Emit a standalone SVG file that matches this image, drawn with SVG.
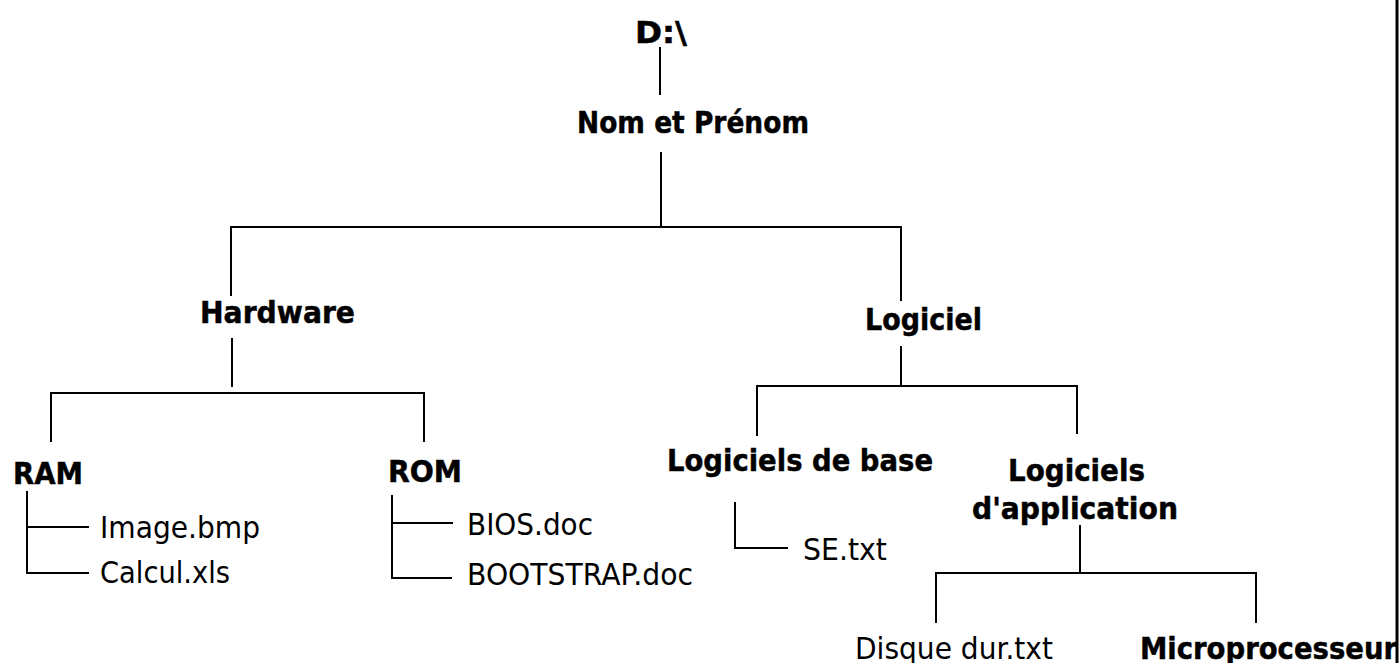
<svg xmlns="http://www.w3.org/2000/svg" width="1400" height="663" viewBox="0 0 1400 663">
<style>
.b{font-family:"DejaVu Sans","Noto Sans",sans-serif;font-weight:bold;font-size:31px;fill:#000;stroke:#000;stroke-width:0.5}
.r{font-family:"DejaVu Sans","Noto Sans",sans-serif;font-size:31px;fill:#000}
.c line{stroke:#000;stroke-width:2;stroke-linecap:square}
</style>
<rect x="0" y="0" width="1400" height="663" fill="#fff"/>
<g class="c" id="connectors">
<line x1="660" y1="48" x2="660" y2="94"/>
<line x1="661" y1="153" x2="661" y2="227"/>
<line x1="231" y1="227" x2="901" y2="227"/>
<line x1="231" y1="227" x2="231" y2="295"/>
<line x1="901" y1="227" x2="901" y2="300"/>
<line x1="232" y1="339" x2="232" y2="386"/>
<line x1="51" y1="393" x2="424" y2="393"/>
<line x1="51" y1="393" x2="51" y2="441"/>
<line x1="424" y1="393" x2="424" y2="441"/>
<line x1="27" y1="492" x2="27" y2="573"/>
<line x1="27" y1="527" x2="88" y2="527"/>
<line x1="27" y1="573" x2="88" y2="573"/>
<line x1="392" y1="496" x2="392" y2="578"/>
<line x1="392" y1="523" x2="452" y2="523"/>
<line x1="392" y1="578" x2="451" y2="578"/>
<line x1="901" y1="347" x2="901" y2="386"/>
<line x1="757" y1="386" x2="1077" y2="386"/>
<line x1="757" y1="386" x2="757" y2="435"/>
<line x1="1077" y1="386" x2="1077" y2="433"/>
<line x1="735" y1="503" x2="735" y2="548"/>
<line x1="735" y1="548" x2="787" y2="548"/>
<line x1="1080" y1="526" x2="1080" y2="573"/>
<line x1="936" y1="573" x2="1256" y2="573"/>
<line x1="936" y1="573" x2="936" y2="622"/>
<line x1="1256" y1="573" x2="1256" y2="622"/>
</g>
<g id="node-d"><text class="b" x="635" y="43" textLength="52" lengthAdjust="spacingAndGlyphs">D:\</text></g>
<g id="node-nom"><text class="b" x="577" y="133" textLength="232" lengthAdjust="spacingAndGlyphs">Nom et Prénom</text></g>
<g id="node-hardware"><text class="b" x="200" y="323" textLength="155" lengthAdjust="spacingAndGlyphs">Hardware</text></g>
<g id="node-logiciel"><text class="b" x="865" y="330" textLength="117" lengthAdjust="spacingAndGlyphs">Logiciel</text></g>
<g id="node-ram"><text class="b" x="13" y="484" textLength="70" lengthAdjust="spacingAndGlyphs">RAM</text></g>
<g id="node-rom"><text class="b" x="388" y="482" textLength="74" lengthAdjust="spacingAndGlyphs">ROM</text></g>
<g id="node-image"><text class="r" x="100" y="538" textLength="160" lengthAdjust="spacingAndGlyphs">Image.bmp</text></g>
<g id="node-calcul"><text class="r" x="100" y="583" textLength="130" lengthAdjust="spacingAndGlyphs">Calcul.xls</text></g>
<g id="node-bios"><text class="r" x="467" y="535" textLength="126" lengthAdjust="spacingAndGlyphs">BIOS.doc</text></g>
<g id="node-bootstrap"><text class="r" x="467" y="585" textLength="226" lengthAdjust="spacingAndGlyphs">BOOTSTRAP.doc</text></g>
<g id="node-base"><text class="b" x="667" y="471" textLength="266" lengthAdjust="spacingAndGlyphs">Logiciels de base</text></g>
<g id="node-se"><text class="r" x="803" y="560" textLength="84" lengthAdjust="spacingAndGlyphs">SE.txt</text></g>
<g id="node-application">
<text class="b" x="1008" y="481" textLength="137" lengthAdjust="spacingAndGlyphs">Logiciels</text>
<text class="b" x="972" y="519" textLength="206" lengthAdjust="spacingAndGlyphs">d'application</text>
</g>
<g id="node-disque"><text class="r" x="855" y="659" textLength="198" lengthAdjust="spacingAndGlyphs">Disque dur.txt</text></g>
<g id="node-micro"><text class="b" x="1140" y="659" textLength="257" lengthAdjust="spacingAndGlyphs">Microprocesseur</text></g>
<line x1="1397" y1="0" x2="1397" y2="663" stroke="#000" stroke-width="3"/>
</svg>
